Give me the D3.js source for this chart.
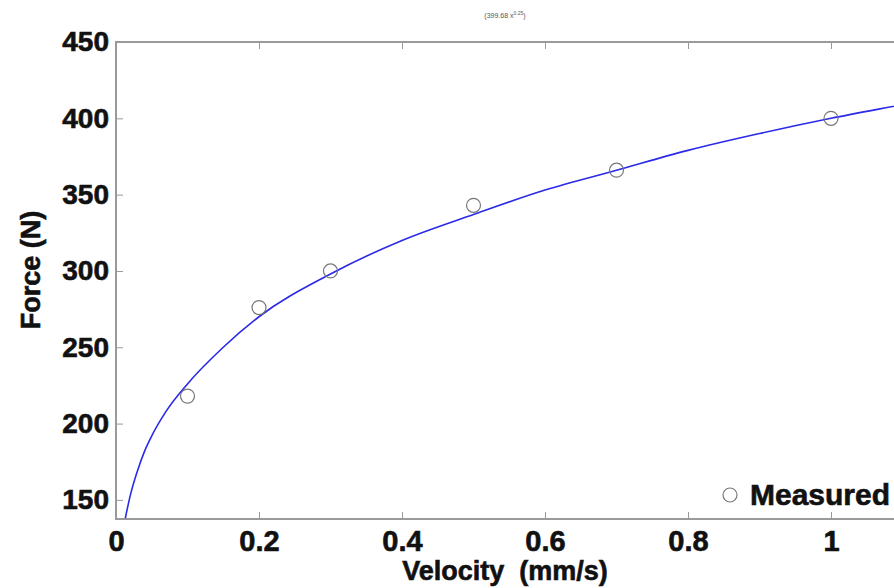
<!DOCTYPE html>
<html>
<head>
<meta charset="utf-8">
<script src="https://cdn.jsdelivr.net/npm/d3@7"></script>
<style>
  body { margin: 0; background: #fff; }
  text { font-family: "Liberation Sans", Arial, sans-serif; }
</style>
</head>
<body>
<svg id="chart" width="894" height="588"></svg>
<script>
// measured points
const velocity = [0.1, 0.2, 0.3, 0.5, 0.7, 1.0];
const force = [218, 276, 300, 343, 366, 400];

// fitted curve
const fitX = [0.013, 0.02, 0.03, 0.04, 0.05, 0.07, 0.1, 0.15, 0.2, 0.3, 0.4, 0.5, 0.6, 0.7, 0.8, 0.9, 1.0, 1.1, 1.2];
const fitY = [138, 153, 169, 182, 192, 208, 226, 250, 270, 298, 320, 337, 353, 366, 379, 390, 400, 409, 418];

const xTicks = [0, 0.2, 0.4, 0.6, 0.8, 1];
const yTicks = [150, 200, 250, 300, 350, 400, 450];
const titleText = "(399.68 x";
const titleExp = "0.25";

const svg = d3.select("#chart");
const plotLeft = 116, plotTop = 42, plotBottom = 519;

// x: 0 -> 116, 1 -> 831
const x = d3.scaleLinear().domain([0, 1.2]).range([plotLeft, plotLeft + 715 * 1.2]);
const y = d3.scaleLinear().domain([137.5, 450]).range([plotBottom, plotTop]);
const plotRight = x(1.2);

svg.append("clipPath").attr("id", "plot")
  .append("rect")
  .attr("x", plotLeft).attr("y", plotTop)
  .attr("width", plotRight - plotLeft).attr("height", plotBottom - plotTop);

// frame
const axisColor = "#9a9a9a";
svg.append("rect")
  .attr("x", plotLeft).attr("y", plotTop)
  .attr("width", plotRight - plotLeft).attr("height", plotBottom - plotTop)
  .attr("fill", "none")
  .attr("stroke", axisColor)
  .attr("stroke-width", 2);

// bold text helper, a touch heavier than plain bold
function heavy(sel, size) {
  sel.attr("font-size", size).attr("font-weight", "bold")
    .attr("fill", "#111").attr("stroke", "#111").attr("stroke-width", 0.6);
}

// bottom axis
const xAxis = svg.append("g")
  .attr("transform", "translate(0," + plotBottom + ")")
  .call(d3.axisBottom(x).tickValues(xTicks).tickSize(-7).tickPadding(11)
    .tickFormat(d3.format("~g")));
xAxis.select(".domain").remove();
xAxis.selectAll("line").attr("stroke", axisColor);
heavy(xAxis.selectAll("text"), 29);

// top ticks
const xTop = svg.append("g")
  .attr("transform", "translate(0," + plotTop + ")")
  .call(d3.axisTop(x).tickValues(xTicks).tickSize(-7).tickFormat(""));
xTop.select(".domain").remove();
xTop.selectAll("line").attr("stroke", axisColor);

// left axis
const yAxis = svg.append("g")
  .attr("transform", "translate(" + plotLeft + ",0)")
  .call(d3.axisLeft(y).tickValues(yTicks).tickSize(-7).tickPadding(7));
yAxis.select(".domain").remove();
yAxis.selectAll("line").attr("stroke", axisColor);
heavy(yAxis.selectAll("text"), 28);

// fitted curve
const line = d3.line()
  .x((d, i) => x(fitX[i]))
  .y(d => y(d))
  .curve(d3.curveMonotoneX);

svg.append("path")
  .datum(fitY)
  .attr("clip-path", "url(#plot)")
  .attr("d", line)
  .attr("fill", "none")
  .attr("stroke", "#2a2ae8")
  .attr("stroke-width", 1.6);

// measured markers
svg.append("g").selectAll("circle")
  .data(force)
  .join("circle")
  .attr("cx", (d, i) => x(velocity[i]))
  .attr("cy", d => y(d))
  .attr("r", 7)
  .attr("fill", "none")
  .attr("stroke", "#777")
  .attr("stroke-width", 1.2);

// legend
svg.append("circle")
  .attr("cx", 730).attr("cy", 495).attr("r", 7)
  .attr("fill", "none").attr("stroke", "#777").attr("stroke-width", 1.2);
heavy(svg.append("text")
  .attr("x", 750).attr("y", 505)
  .text("Measured"), 30);

// tiny title
const t = svg.append("text")
  .attr("x", 505).attr("y", 18)
  .attr("text-anchor", "middle")
  .attr("font-size", 7).attr("fill", "#555");
t.append("tspan").text(titleText);
t.append("tspan").attr("dy", -3).attr("font-size", 5).text(titleExp);
t.append("tspan").attr("dy", 3).text(")");

// axis labels
heavy(svg.append("text")
  .attr("x", 505).attr("y", 580)
  .attr("text-anchor", "middle")
  .style("white-space", "pre")
  .text("Velocity  (mm/s)"), 27);

heavy(svg.append("text")
  .attr("transform", "translate(40,270) rotate(-90)")
  .attr("text-anchor", "middle")
  .text("Force (N)"), 27);
</script>
</body>
</html>
